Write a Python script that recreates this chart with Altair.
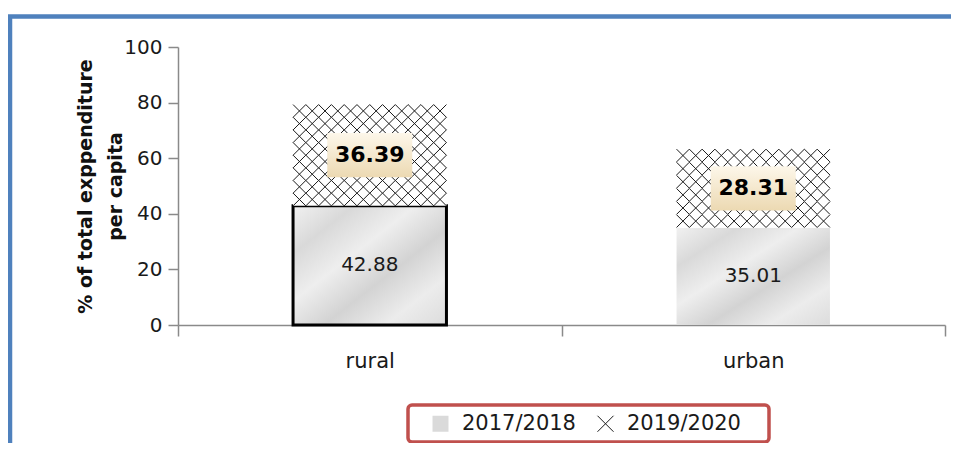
import altair as alt
import pandas as pd

# ---- data ----
areas = ["rural", "urban"]
series = ["2017/2018", "2019/2020"]
val_2017_2018 = [42.88, 35.01]
val_2019_2020 = [36.39, 28.31]
y_ticks = [0, 20, 40, 60, 80, 100]

# band layout of the bars (fractions of one category step)
PAD_INNER = 0.6
PAD_OUTER = 0.3

# ---- tables built from the arrays ----
rows = []
for i, a in enumerate(areas):
    base = 0.0
    for s, vals in zip(series, [val_2017_2018, val_2019_2020]):
        v = vals[i]
        rows.append(dict(area=a, series=s, value=v, start=base, end=base + v,
                         mid=base + v / 2, label=f"{v:.2f}",
                         outline=1 if (a == "rural" and s == series[0]) else 0))
        base += v
df = pd.DataFrame(rows)

# cross-hatch texture for the 2019/2020 segments (grid of X symbols inside each segment)
NCOL = 12
n_steps = len(areas) - PAD_INNER + 2 * PAD_OUTER
tex = []
for _, r in df[df.series == series[1]].iterrows():
    i = areas.index(r.area)
    nrow = max(1, int(round(r.value / 4.7)))
    step = r.value / nrow
    for k in range(nrow):
        for c in range(NCOL):
            tex.append(dict(area=r.area, series=r.series,
                            xpos=PAD_OUTER + i + (c + 0.5) / NCOL * (1 - PAD_INNER),
                            y=r.start + (k + 0.5) * step))
tex_df = pd.DataFrame(tex)

FONT = "DejaVu Sans"
XPATH = "M-1,-1L1,1M1,-1L-1,1"

bar_x = alt.X("area:N", sort=areas, axis=None,
              scale=alt.Scale(domain=areas, paddingInner=PAD_INNER, paddingOuter=PAD_OUTER))
cat_scale = alt.Scale(domain=areas, paddingInner=0, paddingOuter=0)
yscale = alt.Scale(domain=[0, 100], nice=False)

xaxis = alt.Axis(title=None, tickBand="extent", tickSize=11, labelAngle=0,
                 labelPadding=14, labelFontSize=21, labelFont=FONT,
                 labelColor="#1a1a1a", domainColor="#8a8a8a",
                 tickColor="#8a8a8a", domainWidth=1.5, tickWidth=1.5)
yaxis = alt.Axis(values=y_ticks, title=["% of total exppenditure", "per capita"],
                 titleFont=FONT, titleFontSize=19, titleFontWeight="bold",
                 titleColor="#111111", titleLineHeight=30, titleAngle=-90,
                 titleX=-93, titleY=139, titleBaseline="middle", titleAlign="center",
                 labelFont=FONT, labelFontSize=20, labelColor="#1a1a1a",
                 labelPadding=6, tickSize=10, domainColor="#8a8a8a",
                 tickColor="#8a8a8a", domainWidth=1.5, tickWidth=1.5, grid=False)

base = alt.Chart(df)

marble = alt.Gradient(
    gradient="linear", x1=0, y1=0, x2=1, y2=1,
    stops=[alt.GradientStop(offset=0.0, color="#f1f1f1"),
           alt.GradientStop(offset=0.2, color="#d9d9d9"),
           alt.GradientStop(offset=0.4, color="#eeeeee"),
           alt.GradientStop(offset=0.6, color="#d3d3d3"),
           alt.GradientStop(offset=0.8, color="#ececec"),
           alt.GradientStop(offset=1.0, color="#dcdcdc")])

bars_a = base.transform_filter(alt.datum.series == series[0]).mark_bar(fill=marble).encode(
    x=bar_x,
    y=alt.Y("start:Q", scale=yscale, axis=yaxis),
    y2="end:Q",
    stroke=alt.condition(alt.datum.outline == 1, alt.value("#000000"), alt.value("transparent")),
    strokeWidth=alt.condition(alt.datum.outline == 1, alt.value(3), alt.value(0)),
)

bars_b = base.transform_filter(alt.datum.series == series[1]).mark_bar(fill="#ffffff").encode(
    x=bar_x, y=alt.Y("start:Q", scale=yscale), y2="end:Q")

legend = alt.Legend(title="\u00a0", titleOrient="right", titlePadding=20,
                    titleFontSize=21, titleFont=FONT)
texture = alt.Chart(tex_df).mark_point(filled=True, size=163, strokeWidth=1.0, opacity=1).encode(
    x=alt.X("xpos:Q", scale=alt.Scale(domain=[0, n_steps], nice=False, zero=False), axis=None),
    y=alt.Y("y:Q", scale=yscale),
    shape=alt.Shape("series:N", scale=alt.Scale(domain=series, range=["square", XPATH]), legend=legend),
    fill=alt.Fill("series:N", scale=alt.Scale(domain=series, range=["#dadada", "transparent"]), legend=legend),
    stroke=alt.Stroke("series:N", scale=alt.Scale(domain=series, range=["transparent", "#1a1a1a"]), legend=legend),
)

boxfill = alt.Gradient(
    gradient="linear", x1=0, y1=0, x2=0, y2=1,
    stops=[alt.GradientStop(offset=0.0, color="#fdf7ea"),
           alt.GradientStop(offset=1.0, color="#ecd9b2")])
boxes = base.transform_filter(alt.datum.series == series[1]).mark_point(
    shape="M-1,-0.52H1V0.52H-1Z", size=7225, filled=True, fill=boxfill, opacity=1, strokeWidth=0
).encode(x=alt.X("area:N", scale=cat_scale, sort=areas, axis=None), y=alt.Y("mid:Q", scale=yscale))

text_a = base.transform_filter(alt.datum.series == series[0]).mark_text(
    font=FONT, fontSize=20, color="#1a1a1a", baseline="middle"
).encode(x=alt.X("area:N", scale=cat_scale, sort=areas, axis=xaxis),
         y=alt.Y("mid:Q", scale=yscale), text="label:N")

text_b = base.transform_filter(alt.datum.series == series[1]).mark_text(
    font=FONT, fontSize=22, fontWeight="bold", color="#000000", baseline="middle"
).encode(x=alt.X("area:N", scale=cat_scale, sort=areas, axis=None),
         y=alt.Y("mid:Q", scale=yscale), text="label:N")

frame = alt.Chart(alt.Data(values=[{"k": 1}])).mark_rect(
    fill="transparent", stroke="#4f81bd", strokeWidth=4.5
).encode(x=alt.value(-168), y=alt.value(-30.5), x2=alt.value(1500), y2=alt.value(1500))

chart = alt.layer(frame, bars_a, bars_b, texture, boxes, text_a, text_b).resolve_scale(
    x="independent"
).properties(
    width=767, height=278,
    padding={"left": 170, "top": 39, "right": 6, "bottom": 118},
    autosize=alt.AutoSizeParams(type="none"),
).configure_view(stroke=None).configure_legend(
    orient="none", legendX=230, legendY=358, direction="horizontal",
    strokeColor="#c0504d", strokeWidth=3.5, cornerRadius=4, padding=8,
    symbolOffset=14, symbolSize=256, symbolStrokeWidth=1.0, columnPadding=5,
    labelFont=FONT, labelFontSize=21, labelColor="#1a1a1a", labelOffset=11,
    fillColor="#ffffff",
)

chart.save("out.html", embed_options={"renderer": "svg", "actions": False})
